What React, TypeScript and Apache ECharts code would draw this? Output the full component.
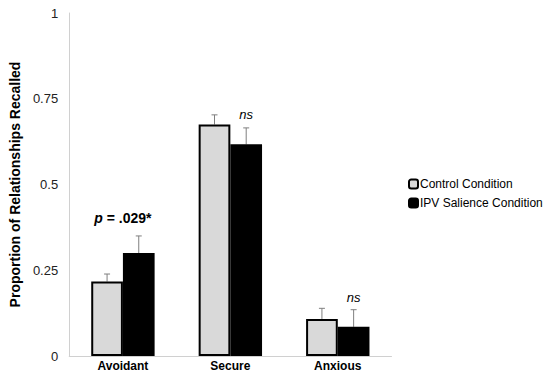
import React, { useEffect, useRef } from "react";
import * as echarts from "echarts";

const categories = ["Avoidant", "Secure", "Anxious"];
const seriesNames = ["Control Condition", "IPV Salience Condition"];
const controlValues = [0.217, 0.675, 0.108];
const controlUpper = [0.239, 0.703, 0.139];
const ipvValues = [0.3, 0.617, 0.085];
const ipvUpper = [0.35, 0.665, 0.135];
const yTicks = [0, 0.25, 0.5, 0.75, 1];
const annotations = [
  { cat: 0, series: -1, value: 0.402, text: "{i|p} = .029*", kind: "bold" },
  { cat: 1, series: 1, value: 0.705, text: "ns", kind: "italic" },
  { cat: 2, series: 1, value: 0.172, text: "ns", kind: "italic" },
];

const FONT = "'Liberation Sans', Arial, sans-serif";
const GAP = 0.41;

function errorSeries(name: string, values: number[], upper: number[], side: number) {
  return {
    type: "custom",
    name: name + " err",
    silent: true,
    z: 1,
    renderItem: (params: any, api: any) => {
      const c = api.value(0);
      const v = api.value(1);
      const u = api.value(2);
      const band = api.size([1, 0])[0];
      const bw = (band * (1 - GAP)) / 2;
      const base = api.coord([c, v]);
      const top = api.coord([c, u]);
      const x = base[0] + side * bw / 2;
      const style = { stroke: "#7f7f7f", lineWidth: 1 };
      return {
        type: "group",
        children: [
          { type: "line", shape: { x1: x, y1: base[1], x2: x, y2: top[1] }, style },
          { type: "line", shape: { x1: x - 3, y1: top[1], x2: x + 3, y2: top[1] }, style },
        ],
      };
    },
    data: values.map((v, i) => [i, v, upper[i]]),
    encode: { x: 0, y: 1 },
  };
}

function annotationSeries() {
  return {
    type: "custom",
    name: "annotations",
    silent: true,
    z: 5,
    renderItem: (params: any, api: any) => {
      const a = annotations[params.dataIndex];
      const band = api.size([1, 0])[0];
      const bw = (band * (1 - GAP)) / 2;
      const p = api.coord([a.cat, a.value]);
      const x = p[0] + (a.series === -1 ? 0 : (a.series === 0 ? -bw / 2 : bw / 2));
      const bold = a.kind === "bold";
      return {
        type: "text",
        x,
        y: p[1],
        style: {
          text: a.text,
          fill: "#000",
          fontFamily: FONT,
          fontSize: bold ? 14 : 13,
          fontWeight: bold ? "bold" : "normal",
          fontStyle: bold ? "normal" : "italic",
          align: "center",
          verticalAlign: "middle",
          rich: {
            i: { fontFamily: FONT, fontSize: 14, fontWeight: "bold", fontStyle: "italic", fill: "#000" },
          },
        },
      };
    },
    data: annotations.map((a) => [a.cat, a.value]),
    encode: { x: 0, y: 1 },
  };
}

export default function App() {
  const ref = useRef<HTMLDivElement>(null);
  useEffect(() => {
    if (!ref.current) return;
    const chart = echarts.init(ref.current, undefined, { renderer: "svg" });
    chart.setOption({
      animation: false,
      backgroundColor: "#fff",
      grid: { left: 66, top: 13, right: 158.5, bottom: 19, containLabel: false },
      legend: {
        orient: "vertical",
        left: 403,
        top: 173,
        itemWidth: 9,
        itemHeight: 9,
        itemGap: 7,
        selectedMode: false,
        data: seriesNames,
        textStyle: { fontFamily: FONT, fontSize: 12, color: "#000", padding: [0, 0, 0, -3] },
      },
      xAxis: {
        type: "category",
        data: categories,
        axisLine: { lineStyle: { color: "#d0d0d0", width: 1 } },
        axisTick: { show: false },
        axisLabel: { fontFamily: FONT, fontSize: 12, fontWeight: "bold", color: "#000", margin: 4 },
      },
      yAxis: {
        type: "value",
        min: 0,
        max: 1,
        interval: 0.25,
        name: "Proportion of Relationships Recalled",
        nameLocation: "middle",
        nameGap: 41,
        nameTextStyle: { fontFamily: FONT, fontSize: 14, fontWeight: "bold", color: "#000" },
        axisLine: { show: true, lineStyle: { color: "#d0d0d0", width: 1 } },
        axisTick: { show: false },
        splitLine: { show: false },
        axisLabel: {
          fontFamily: FONT,
          fontSize: 13,
          color: "#222",
          margin: 11,
          formatter: (v: number) => (yTicks.includes(v) ? String(v) : ""),
        },
      },
      series: [
        {
          type: "bar",
          name: seriesNames[0],
          data: controlValues,
          barGap: "0%",
          barCategoryGap: GAP * 100 + "%",
          itemStyle: { color: "#d9d9d9", borderColor: "#000", borderWidth: 2 },
          z: 2,
        },
        {
          type: "bar",
          name: seriesNames[1],
          data: ipvValues,
          itemStyle: { color: "#000", borderColor: "#000", borderWidth: 2 },
          z: 2,
        },
        errorSeries(seriesNames[0], controlValues, controlUpper, -1),
        errorSeries(seriesNames[1], ipvValues, ipvUpper, 1),
        annotationSeries(),
      ],
    });
    return () => chart.dispose();
  }, []);
  return (
    <div
      ref={ref}
      style={{ position: "fixed", left: 0, top: 0, width: 550, height: 375 }}
    />
  );
}
